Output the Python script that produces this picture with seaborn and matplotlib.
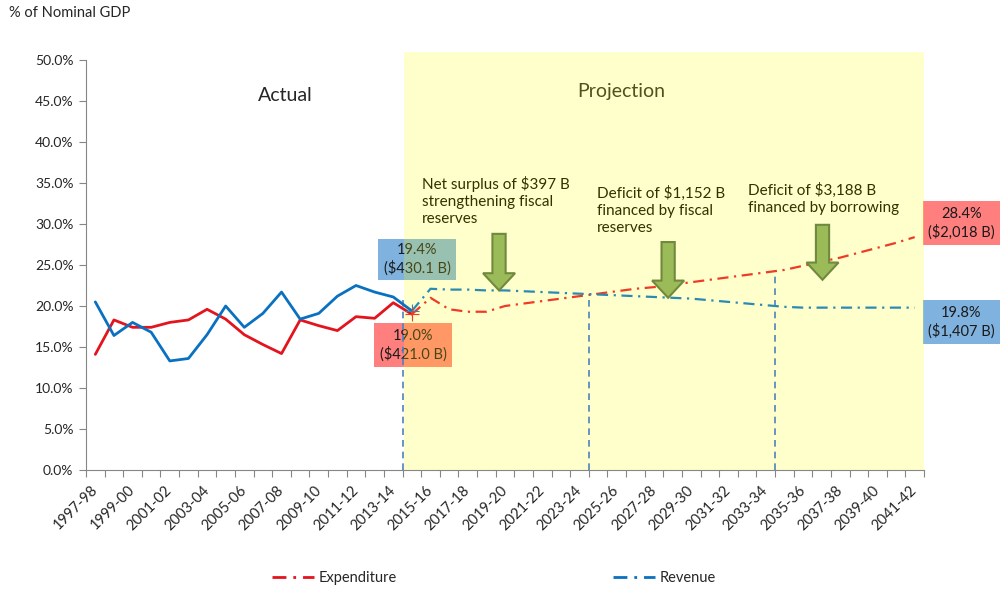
import numpy as np
import pandas as pd
import matplotlib
matplotlib.use("Agg")
import matplotlib.pyplot as plt
from matplotlib.patches import Rectangle, FancyArrow
from matplotlib.lines import Line2D
import seaborn as sns

# ---------------------------------------------------------------
# data (% of nominal GDP)
# ---------------------------------------------------------------
years = [f"{y}-{(y + 1) % 100:02d}" for y in range(1997, 2042)]   # 1997-98 .. 2041-42

# actual: 1997-98 .. 2014-15
exp_actual = [14.1, 18.3, 17.4, 17.4, 18.0, 18.3, 19.6, 18.4, 16.5,
              15.3, 14.2, 18.3, 17.6, 17.0, 18.7, 18.5, 20.4, 19.0]
rev_actual = [20.5, 16.4, 18.0, 16.8, 13.3, 13.6, 16.5, 20.0, 17.4,
              19.1, 21.7, 18.4, 19.1, 21.2, 22.5, 21.7, 21.1, 19.4]

# projection: 2014-15 .. 2041-42
exp_proj = [19.0, 21.0, 19.6, 19.3, 19.3, 20.0, 20.3, 20.6, 20.9, 21.2,
            21.5, 21.8, 22.1, 22.3, 22.6, 22.9, 23.2, 23.5, 23.8, 24.1,
            24.4, 24.9, 25.4, 25.9, 26.5, 27.1, 27.7, 28.4]
rev_proj = [19.4, 22.1, 22.0, 22.0, 21.9, 21.9, 21.8, 21.7, 21.6, 21.5,
            21.4, 21.3, 21.2, 21.1, 21.0, 20.9, 20.7, 20.5, 20.3, 20.1,
            19.9, 19.8, 19.8, 19.8, 19.8, 19.8, 19.8, 19.8]
PROJ_START = len(exp_actual) - 1

notes = ["Net surplus of $397 B\nstrengthening fiscal\nreserves",
         "Deficit of $1,152 B\nfinanced by fiscal\nreserves",
         "Deficit of $3,188 B\nfinanced by borrowing"]

# ---------------------------------------------------------------
sns.set_theme(style="white")
plt.rcParams["font.family"] = ["Lato", "DejaVu Sans"]

def part_frame(vals, start, name):
    return pd.DataFrame({"idx": np.arange(start, start + len(vals)),
                         "value": vals, "part": name})

df_act = pd.concat([part_frame(exp_actual, 0, "exp"),
                    part_frame(rev_actual, 0, "rev")])
df_proj = pd.concat([part_frame(exp_proj, PROJ_START, "exp"),
                     part_frame(rev_proj, PROJ_START, "rev")])

RED, BLUE = "#E3141E", "#0A70C0"
RED_P, BLUE_P = "#EE3A26", "#2A8AB4"
DASHDOT = (5, 2.5, 1, 2.5)

fig = plt.figure(figsize=(10.03, 5.92), dpi=100)
ax = fig.add_axes([86 / 1003, 1 - 470 / 592, 838 / 1003, 410 / 592])

sns.lineplot(data=df_act, x="idx", y="value", hue="part",
             palette={"exp": RED, "rev": BLUE}, lw=2.0, legend=False,
             ax=ax, zorder=6)
sns.lineplot(data=df_proj, x="idx", y="value", hue="part", style="part",
             palette={"exp": RED_P, "rev": BLUE_P},
             dashes={"exp": DASHDOT, "rev": DASHDOT}, lw=1.6, legend=False,
             ax=ax, zorder=6)

# small cross at the 2014-15 joint
ax.plot([PROJ_START], [rev_actual[-1]], marker="+", ms=10, mew=0.8, color=BLUE_P, zorder=6)
ax.plot([PROJ_START], [exp_actual[-1]], marker="+", ms=10, mew=0.8, color=RED_P, zorder=6)

# projection shading (translucent yellow over boxes and text)
ax.axvspan(16.6, 44.5, ymin=0, ymax=1.02, color="yellow", alpha=0.2,
           lw=0, zorder=4, clip_on=False)

# phase dividers
ax.vlines([16.5, 26.5, 36.5], 0, [21.0, 21.4, 24.4], colors="#4F81BD",
          linestyles=(0, (4, 3)), lw=1.2, zorder=5)

# green arrows
for x, top, tip in [(21.68, 28.8, 21.9), (30.76, 27.8, 21.0), (39.05, 29.9, 23.2)]:
    ax.add_patch(FancyArrow(x, top, 0, tip - top, width=0.71, head_width=1.72,
                            head_length=2.1, length_includes_head=True,
                            fc="#9BBB59", ec="#71893F", lw=1.5, zorder=7))

# notes
for (x, y), txt in zip([(17.53, 35.9), (26.93, 34.7), (35.05, 35.0)], notes):
    ax.text(x, y, txt, ha="left", va="top", fontsize=11, linespacing=1.3,
            color="black", zorder=3)

ax.text(10.19, 45.7, "Actual", ha="center", va="center", fontsize=14, zorder=3)
ax.text(28.23, 46.1, "Projection", ha="center", va="center", fontsize=14, zorder=3)

# value boxes (pixel bounds -> figure fraction)
def value_box(x0, y0, x1, y1, color, txt):
    r = Rectangle((x0 / 1003, 1 - y1 / 592), (x1 - x0) / 1003, (y1 - y0) / 592,
                  transform=fig.transFigure, fc=color, ec="none",
                  clip_on=False, zorder=2)
    ax.add_artist(r)
    ax.text((x0 + x1) / 2 / 1003, 1 - (y0 + y1) / 2 / 592, txt,
            transform=fig.transFigure, ha="center", va="center",
            fontsize=10.5, linespacing=1.3, color="#1a1a1a", zorder=3, clip_on=False)

value_box(378, 239, 456, 280, "#7FB2DE", "19.4%\n($430.1 B)")
value_box(374, 323, 452, 367, "#FF7F7F", "19.0%\n($421.0 B)")
value_box(923, 201, 1000, 245, "#FF7F7F", "28.4%\n($2,018 B)")
value_box(923, 300, 1000, 344, "#7FB2DE", "19.8%\n($1,407 B)")

# axes cosmetics
ax.set_xlim(-0.5, 44.5)
ax.set_ylim(0, 50)
ax.set_xlabel("")
ax.set_ylabel("")
yt = np.arange(0, 51, 5)
ax.set_yticks(yt)
ax.set_yticklabels([f"{v:.1f}%" for v in yt], fontsize=10)
ax.set_xticks(range(0, len(years), 2))
ax.set_xticklabels(years[::2], rotation=45, ha="right", va="center",
                   rotation_mode="anchor", fontsize=10.5)
ax.set_xticks(np.arange(-0.5, len(years), 1), minor=True)
ax.tick_params(axis="x", which="major", length=0, pad=13)
ax.tick_params(axis="x", which="minor", length=5, width=0.8, color="#868686",
               direction="out", bottom=True)
ax.tick_params(axis="y", length=5, width=0.8, color="#868686", direction="out",
               left=True, pad=4)
for s in ["top", "right"]:
    ax.spines[s].set_visible(False)
for s in ["left", "bottom"]:
    ax.spines[s].set_color("#868686")
    ax.spines[s].set_linewidth(0.8)
ax.set_facecolor("none")

fig.text(9 / 1003, 1 - 13 / 592, "% of Nominal GDP", va="center", ha="left", fontsize=10.5)

handles = [Line2D([], [], color=RED, lw=2, ls=(0, DASHDOT)),
           Line2D([], [], color=BLUE, lw=2, ls=(0, DASHDOT))]
fig.legend(handles, ["Expenditure", "Revenue"], loc="center",
           bbox_to_anchor=(494 / 1003, 1 - 578 / 592), ncol=2, frameon=False,
           handlelength=2.9, handletextpad=0.3, columnspacing=14.8, fontsize=10.5)

fig.savefig("out.png", dpi=100)
